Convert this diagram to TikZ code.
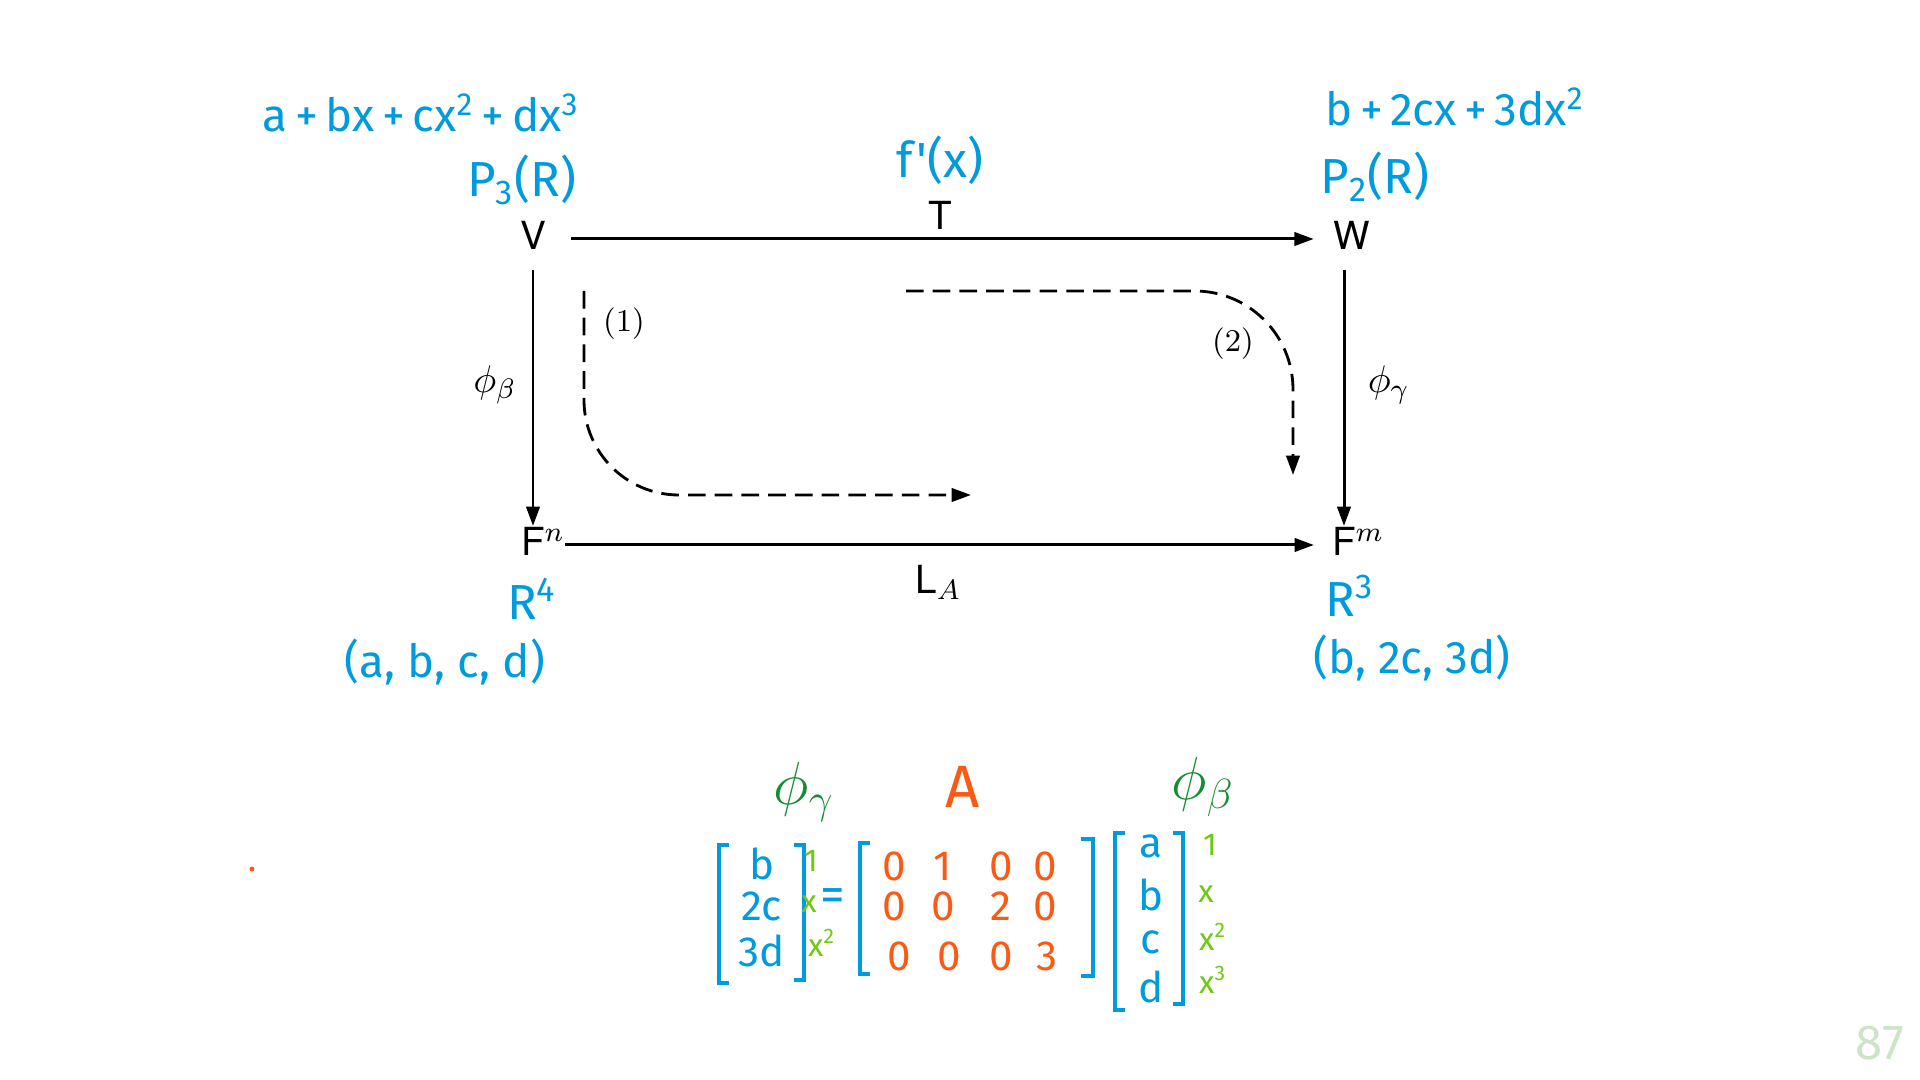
\documentclass[tikz,border=0pt]{standalone}
\usepackage{fontspec}
\setsansfont{TeX Gyre Heros}
\newfontfamily\hand{Fira Sans}
\usetikzlibrary{arrows.meta}
\definecolor{penblue}{RGB}{0,155,220}
\definecolor{penorange}{RGB}{250,90,20}
\definecolor{pendark}{RGB}{20,140,50}
\definecolor{penlight}{RGB}{110,200,20}
\definecolor{pagegreen}{RGB}{205,228,200}

\begin{document}
\begin{tikzpicture}[x=0.01cm,y=-0.01cm,
    obj/.style={font=\sffamily\fontsize{11}{13}\selectfont,inner sep=1pt,text height=1.4ex,text depth=0pt},
    lab/.style={font=\sffamily\fontsize{11}{13}\selectfont},
    map/.style={-{Triangle[length=5.5pt,width=3.8pt]},line width=0.85pt},
    route/.style={-{Triangle[length=5.5pt,width=3.8pt]},line width=0.8pt,dash pattern=on 5pt off 2.6pt},
    hand/.style={text=penblue,font=\hand\fontsize{14}{16}\selectfont,inner sep=0pt},
    vec/.style={text=penblue,font=\hand\fontsize{12}{14}\selectfont,inner sep=0pt},
    num/.style={text=penorange,font=\hand\fontsize{12}{14}\selectfont,inner sep=0pt},
    basis/.style={text=penlight,font=\hand\fontsize{9}{11}\selectfont,inner sep=0pt},
    greek/.style={text=pendark,font=\fontsize{17}{20}\selectfont,inner sep=0pt},
    brk/.style={draw=penblue,line width=1pt}]

  \useasboundingbox (0,0) rectangle (1920,1080);

  % the four spaces
  \node[obj] (V) at (533,239) {V};
  \node[obj] (W) at (1352,239) {W};
  \node[obj] (Fn) at (533,545) {F\rlap{$^n$}};
  \node[obj] (Fm) at (1344,545) {F\rlap{$^m$}};

  \draw[map,shorten <=6pt,shorten >=4.5pt] (V) -- (W) node[lab,midway,above=-1pt] {T};
  \draw[map,shorten <=4.5pt,shorten >=4pt] (Fn) -- (Fm) node[lab,midway,below=2pt] {L$_A$};
  \draw[map,shorten <=4.5pt,shorten >=1.2pt] (V) -- (Fn) node[lab,midway,left=1pt,yshift=2pt] {$\phi_\beta$};
  \draw[map,shorten <=4.5pt,shorten >=1.2pt] (W.south -| Fm) -- (Fm) node[lab,midway,right=3pt,yshift=2pt] {$\phi_\gamma$};

  % the two ways round
  \coordinate (r1s) at (584,291);
  \coordinate (r1e) at (971,495);
  \draw[route,rounded corners=27pt] (r1s) |- (r1e);
  \node[font=\fontsize{9}{11}\selectfont] (n1) at (624,324) {(1)};
  \coordinate (r2s) at (906,291);
  \coordinate (r2e) at (1293,475);
  \draw[route,rounded corners=28pt] (r2s) -| (r2e);
  \node[font=\fontsize{9}{11}\selectfont] (n2) at (1233,344) {(2)};

  % notes in pen
  \node[hand,font=\hand\fontsize{13}{15}\selectfont] (polyV) at (421,113) {a\,+\,bx\,+\,cx\textsuperscript{2}\,+\,dx\textsuperscript{3}};
  \node[hand] (PV) at (522,180) {P\textsubscript{3}(R)};
  \node[hand] (diff) at (940,160) {f'(x)};
  \node[hand,font=\hand\fontsize{13}{15}\selectfont] (polyW) at (1455,107) {b\,+\,2cx\,+\,3dx\textsuperscript{2}};
  \node[hand] (PW) at (1375,177) {P\textsubscript{2}(R)};
  \node[hand] (R4) at (532,599) {R\textsuperscript{4}};
  \node[hand,font=\hand\fontsize{13}{15}\selectfont] (tupV) at (445,662) {(a, b, c, d)};
  \node[hand] (R3) at (1350,596) {R\textsuperscript{3}};
  \node[hand,font=\hand\fontsize{13}{15}\selectfont] (tupW) at (1412,658) {(b, 2c, 3d)};

  % the matrix equation
  \node[greek] (phig) at (804,792) {$\phi_\gamma$};
  \node[text=penorange,font=\hand\fontsize{17}{20}\selectfont] (A) at (963,787) {A};
  \node[greek] (phib) at (1203,787) {$\phi_\beta$};
  \foreach \x/\t/\b/\s in {719/845/983/10, 804/845/980/-10, 860/843/974/10,
      1093/839/976/-12, 1115/833/1010/10, 1183/833/1004/-10}
    \draw[brk] ({\x+(\s)},\t) -- (\x,\t) -- (\x,\b) -- ({\x+(\s)},\b);
  \foreach \y/\v [count=\i] in {864/b, 906/2c, 951/3d}
    \node[vec] (u\i) at (762,\y) {\v};
  \foreach \y/\v [count=\i] in {846/a, 895/b, 942/c, 987/d}
    \node[vec] (c\i) at (1151,\y) {\v};
  \node[hand] (eq) at (833,900) {=};
  \foreach \x/\y/\v [count=\i] in {894/866/0, 943/866/1, 1001/866/0, 1045/866/0,
      894/906/0, 943/906/0, 1001/906/2, 1045/906/0,
      899/956/0, 949/956/0, 1001/956/0, 1047/956/3}
    \node[num] (a\i) at (\x,\y) {\v};
  \foreach \x/\y/\v [count=\i] in {811/861/1, 809/904/x, 822/943/x\textsuperscript{2}}
    \node[basis] (l\i) at (\x,\y) {\v};
  \foreach \x/\y/\v [count=\i] in {1210/845/1, 1206/894/x, 1213/937/x\textsuperscript{2}, 1213/980/x\textsuperscript{3}}
    \node[basis] (r\i) at (\x,\y) {\v};

  \fill[penorange] (252,869) circle (0.7pt);
  \node[text=pagegreen,font=\hand\fontsize{14}{16}\selectfont] (pg) at (1880,1043) {87};
\end{tikzpicture}
\end{document}
